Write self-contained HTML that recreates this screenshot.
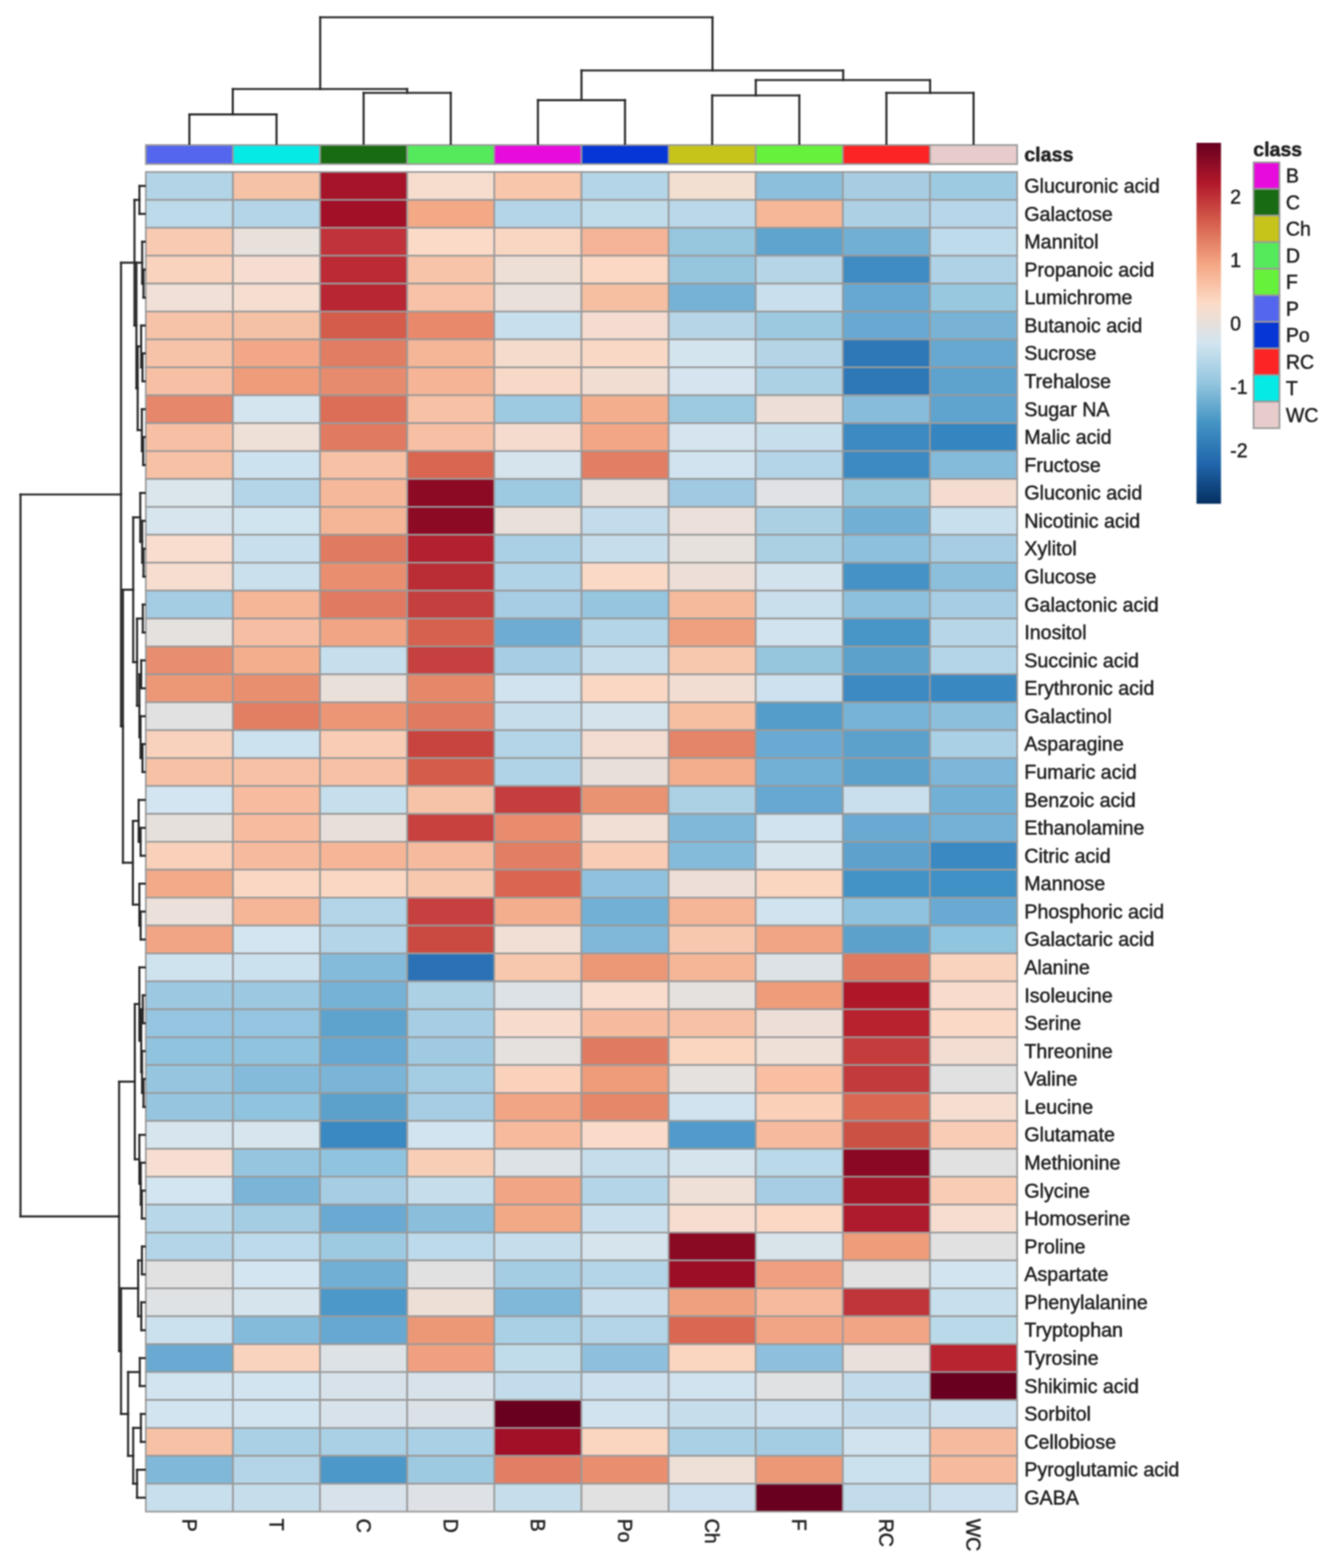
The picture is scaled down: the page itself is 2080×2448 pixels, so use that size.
<!DOCTYPE html><html><head><meta charset="utf-8"><style>
html,body{margin:0;padding:0;background:#fff;}
svg{display:block;filter:blur(0.9px);}
text{font-family:"Liberation Sans",Arial,sans-serif;fill:#202020;stroke:#202020;stroke-width:0.7px;}
</style></head><body>
<svg width="2080" height="2448" viewBox="0 0 2080 2448">
<rect width="2080" height="2448" fill="#fff"/>
<g stroke="#9a9a9a" stroke-width="2.6">
<rect x="227.7" y="268.5" width="136.1" height="43.57" fill="#B2D4E6"/>
<rect x="363.8" y="268.5" width="136.1" height="43.57" fill="#F6C2A6"/>
<rect x="499.8" y="268.5" width="136.1" height="43.57" fill="#A51428"/>
<rect x="635.9" y="268.5" width="136.1" height="43.57" fill="#F6DDCE"/>
<rect x="771.9" y="268.5" width="136.1" height="43.57" fill="#F8C6AA"/>
<rect x="908.0" y="268.5" width="136.1" height="43.57" fill="#B4D5E7"/>
<rect x="1044.1" y="268.5" width="136.1" height="43.57" fill="#F3DED2"/>
<rect x="1180.1" y="268.5" width="136.1" height="43.57" fill="#8BBFDB"/>
<rect x="1316.2" y="268.5" width="136.1" height="43.57" fill="#A8CDE2"/>
<rect x="1452.2" y="268.5" width="136.1" height="43.57" fill="#9ECAE1"/>
<rect x="227.7" y="312.1" width="136.1" height="43.57" fill="#BCDAEA"/>
<rect x="363.8" y="312.1" width="136.1" height="43.57" fill="#B4D5E8"/>
<rect x="499.8" y="312.1" width="136.1" height="43.57" fill="#A11027"/>
<rect x="635.9" y="312.1" width="136.1" height="43.57" fill="#F3A886"/>
<rect x="771.9" y="312.1" width="136.1" height="43.57" fill="#B4D5E8"/>
<rect x="908.0" y="312.1" width="136.1" height="43.57" fill="#C0DCEA"/>
<rect x="1044.1" y="312.1" width="136.1" height="43.57" fill="#BAD8EA"/>
<rect x="1180.1" y="312.1" width="136.1" height="43.57" fill="#F5B797"/>
<rect x="1316.2" y="312.1" width="136.1" height="43.57" fill="#AED0E5"/>
<rect x="1452.2" y="312.1" width="136.1" height="43.57" fill="#B7D6E9"/>
<rect x="227.7" y="355.6" width="136.1" height="43.57" fill="#F8CAB2"/>
<rect x="363.8" y="355.6" width="136.1" height="43.57" fill="#E8E0DA"/>
<rect x="499.8" y="355.6" width="136.1" height="43.57" fill="#C0333A"/>
<rect x="635.9" y="355.6" width="136.1" height="43.57" fill="#FBDBC8"/>
<rect x="771.9" y="355.6" width="136.1" height="43.57" fill="#F9D6C1"/>
<rect x="908.0" y="355.6" width="136.1" height="43.57" fill="#F5B497"/>
<rect x="1044.1" y="355.6" width="136.1" height="43.57" fill="#97C6DF"/>
<rect x="1180.1" y="355.6" width="136.1" height="43.57" fill="#5FA3CF"/>
<rect x="1316.2" y="355.6" width="136.1" height="43.57" fill="#72AFD4"/>
<rect x="1452.2" y="355.6" width="136.1" height="43.57" fill="#BEDBEB"/>
<rect x="227.7" y="399.2" width="136.1" height="43.57" fill="#F9D3BE"/>
<rect x="363.8" y="399.2" width="136.1" height="43.57" fill="#F5DED1"/>
<rect x="499.8" y="399.2" width="136.1" height="43.57" fill="#BB2A35"/>
<rect x="635.9" y="399.2" width="136.1" height="43.57" fill="#F7C4AA"/>
<rect x="771.9" y="399.2" width="136.1" height="43.57" fill="#EDDFD6"/>
<rect x="908.0" y="399.2" width="136.1" height="43.57" fill="#FAD8C3"/>
<rect x="1044.1" y="399.2" width="136.1" height="43.57" fill="#96C5DE"/>
<rect x="1180.1" y="399.2" width="136.1" height="43.57" fill="#B6D5E7"/>
<rect x="1316.2" y="399.2" width="136.1" height="43.57" fill="#3F8CC3"/>
<rect x="1452.2" y="399.2" width="136.1" height="43.57" fill="#AFD2E6"/>
<rect x="227.7" y="442.8" width="136.1" height="43.57" fill="#F1E0D7"/>
<rect x="363.8" y="442.8" width="136.1" height="43.57" fill="#F5DDD0"/>
<rect x="499.8" y="442.8" width="136.1" height="43.57" fill="#B92633"/>
<rect x="635.9" y="442.8" width="136.1" height="43.57" fill="#F7C2A7"/>
<rect x="771.9" y="442.8" width="136.1" height="43.57" fill="#EAE0DB"/>
<rect x="908.0" y="442.8" width="136.1" height="43.57" fill="#F6BFA2"/>
<rect x="1044.1" y="442.8" width="136.1" height="43.57" fill="#76B2D6"/>
<rect x="1180.1" y="442.8" width="136.1" height="43.57" fill="#CADFED"/>
<rect x="1316.2" y="442.8" width="136.1" height="43.57" fill="#67A8D2"/>
<rect x="1452.2" y="442.8" width="136.1" height="43.57" fill="#98C8E0"/>
<rect x="227.7" y="486.4" width="136.1" height="43.57" fill="#F7C3A8"/>
<rect x="363.8" y="486.4" width="136.1" height="43.57" fill="#F5C1A5"/>
<rect x="499.8" y="486.4" width="136.1" height="43.57" fill="#D35C4B"/>
<rect x="635.9" y="486.4" width="136.1" height="43.57" fill="#E8896B"/>
<rect x="771.9" y="486.4" width="136.1" height="43.57" fill="#C8DFED"/>
<rect x="908.0" y="486.4" width="136.1" height="43.57" fill="#F4DCD0"/>
<rect x="1044.1" y="486.4" width="136.1" height="43.57" fill="#B6D5E7"/>
<rect x="1180.1" y="486.4" width="136.1" height="43.57" fill="#9CC9E0"/>
<rect x="1316.2" y="486.4" width="136.1" height="43.57" fill="#69A8D0"/>
<rect x="1452.2" y="486.4" width="136.1" height="43.57" fill="#78B3D6"/>
<rect x="227.7" y="529.9" width="136.1" height="43.57" fill="#F7C3A8"/>
<rect x="363.8" y="529.9" width="136.1" height="43.57" fill="#F2A888"/>
<rect x="499.8" y="529.9" width="136.1" height="43.57" fill="#E07D62"/>
<rect x="635.9" y="529.9" width="136.1" height="43.57" fill="#F5B597"/>
<rect x="771.9" y="529.9" width="136.1" height="43.57" fill="#F5DBCC"/>
<rect x="908.0" y="529.9" width="136.1" height="43.57" fill="#F9D9C6"/>
<rect x="1044.1" y="529.9" width="136.1" height="43.57" fill="#D3E4EF"/>
<rect x="1180.1" y="529.9" width="136.1" height="43.57" fill="#B5D5E7"/>
<rect x="1316.2" y="529.9" width="136.1" height="43.57" fill="#2F78B8"/>
<rect x="1452.2" y="529.9" width="136.1" height="43.57" fill="#67A8D0"/>
<rect x="227.7" y="573.5" width="136.1" height="43.57" fill="#F7C0A4"/>
<rect x="363.8" y="573.5" width="136.1" height="43.57" fill="#EE9C7A"/>
<rect x="499.8" y="573.5" width="136.1" height="43.57" fill="#E68B6E"/>
<rect x="635.9" y="573.5" width="136.1" height="43.57" fill="#F5B496"/>
<rect x="771.9" y="573.5" width="136.1" height="43.57" fill="#F8D8C6"/>
<rect x="908.0" y="573.5" width="136.1" height="43.57" fill="#F2DDD2"/>
<rect x="1044.1" y="573.5" width="136.1" height="43.57" fill="#D5E4EE"/>
<rect x="1180.1" y="573.5" width="136.1" height="43.57" fill="#ACD1E5"/>
<rect x="1316.2" y="573.5" width="136.1" height="43.57" fill="#2F78B8"/>
<rect x="1452.2" y="573.5" width="136.1" height="43.57" fill="#5EA2CE"/>
<rect x="227.7" y="617.1" width="136.1" height="43.57" fill="#E6866A"/>
<rect x="363.8" y="617.1" width="136.1" height="43.57" fill="#D5E5EF"/>
<rect x="499.8" y="617.1" width="136.1" height="43.57" fill="#DC6D57"/>
<rect x="635.9" y="617.1" width="136.1" height="43.57" fill="#F7C1A6"/>
<rect x="771.9" y="617.1" width="136.1" height="43.57" fill="#9DC9E1"/>
<rect x="908.0" y="617.1" width="136.1" height="43.57" fill="#F3AE8D"/>
<rect x="1044.1" y="617.1" width="136.1" height="43.57" fill="#9DC9E1"/>
<rect x="1180.1" y="617.1" width="136.1" height="43.57" fill="#EDDFD7"/>
<rect x="1316.2" y="617.1" width="136.1" height="43.57" fill="#87BCDB"/>
<rect x="1452.2" y="617.1" width="136.1" height="43.57" fill="#5FA3CF"/>
<rect x="227.7" y="660.7" width="136.1" height="43.57" fill="#F7C0A4"/>
<rect x="363.8" y="660.7" width="136.1" height="43.57" fill="#EEDFD7"/>
<rect x="499.8" y="660.7" width="136.1" height="43.57" fill="#E07A60"/>
<rect x="635.9" y="660.7" width="136.1" height="43.57" fill="#F7BFA3"/>
<rect x="771.9" y="660.7" width="136.1" height="43.57" fill="#F5DBCE"/>
<rect x="908.0" y="660.7" width="136.1" height="43.57" fill="#F2A686"/>
<rect x="1044.1" y="660.7" width="136.1" height="43.57" fill="#D5E4EE"/>
<rect x="1180.1" y="660.7" width="136.1" height="43.57" fill="#C7DEEC"/>
<rect x="1316.2" y="660.7" width="136.1" height="43.57" fill="#3D8AC2"/>
<rect x="1452.2" y="660.7" width="136.1" height="43.57" fill="#3585C0"/>
<rect x="227.7" y="704.2" width="136.1" height="43.57" fill="#F7C1A5"/>
<rect x="363.8" y="704.2" width="136.1" height="43.57" fill="#CDE2EF"/>
<rect x="499.8" y="704.2" width="136.1" height="43.57" fill="#F7C1A5"/>
<rect x="635.9" y="704.2" width="136.1" height="43.57" fill="#D86651"/>
<rect x="771.9" y="704.2" width="136.1" height="43.57" fill="#D6E4EE"/>
<rect x="908.0" y="704.2" width="136.1" height="43.57" fill="#E27E64"/>
<rect x="1044.1" y="704.2" width="136.1" height="43.57" fill="#D0E3EF"/>
<rect x="1180.1" y="704.2" width="136.1" height="43.57" fill="#B4D5E7"/>
<rect x="1316.2" y="704.2" width="136.1" height="43.57" fill="#3D8AC2"/>
<rect x="1452.2" y="704.2" width="136.1" height="43.57" fill="#85BBDA"/>
<rect x="227.7" y="747.8" width="136.1" height="43.57" fill="#DAE5EC"/>
<rect x="363.8" y="747.8" width="136.1" height="43.57" fill="#B4D5E8"/>
<rect x="499.8" y="747.8" width="136.1" height="43.57" fill="#F5B89A"/>
<rect x="635.9" y="747.8" width="136.1" height="43.57" fill="#8C0A24"/>
<rect x="771.9" y="747.8" width="136.1" height="43.57" fill="#9DC9E1"/>
<rect x="908.0" y="747.8" width="136.1" height="43.57" fill="#EAE0DB"/>
<rect x="1044.1" y="747.8" width="136.1" height="43.57" fill="#A0CAE2"/>
<rect x="1180.1" y="747.8" width="136.1" height="43.57" fill="#E0E2E5"/>
<rect x="1316.2" y="747.8" width="136.1" height="43.57" fill="#96C5DE"/>
<rect x="1452.2" y="747.8" width="136.1" height="43.57" fill="#F5DCD0"/>
<rect x="227.7" y="791.4" width="136.1" height="43.57" fill="#D6E5EE"/>
<rect x="363.8" y="791.4" width="136.1" height="43.57" fill="#D0E4EF"/>
<rect x="499.8" y="791.4" width="136.1" height="43.57" fill="#F5B597"/>
<rect x="635.9" y="791.4" width="136.1" height="43.57" fill="#8C0A24"/>
<rect x="771.9" y="791.4" width="136.1" height="43.57" fill="#E9E0DB"/>
<rect x="908.0" y="791.4" width="136.1" height="43.57" fill="#C2DCEB"/>
<rect x="1044.1" y="791.4" width="136.1" height="43.57" fill="#EBE0DA"/>
<rect x="1180.1" y="791.4" width="136.1" height="43.57" fill="#ABD0E4"/>
<rect x="1316.2" y="791.4" width="136.1" height="43.57" fill="#72AFD4"/>
<rect x="1452.2" y="791.4" width="136.1" height="43.57" fill="#C8DFED"/>
<rect x="227.7" y="834.9" width="136.1" height="43.57" fill="#F9DDCE"/>
<rect x="363.8" y="834.9" width="136.1" height="43.57" fill="#C8DFED"/>
<rect x="499.8" y="834.9" width="136.1" height="43.57" fill="#E07A60"/>
<rect x="635.9" y="834.9" width="136.1" height="43.57" fill="#B3202F"/>
<rect x="771.9" y="834.9" width="136.1" height="43.57" fill="#AAD0E5"/>
<rect x="908.0" y="834.9" width="136.1" height="43.57" fill="#C6DEEC"/>
<rect x="1044.1" y="834.9" width="136.1" height="43.57" fill="#E7E1DE"/>
<rect x="1180.1" y="834.9" width="136.1" height="43.57" fill="#ABD0E4"/>
<rect x="1316.2" y="834.9" width="136.1" height="43.57" fill="#8CC0DC"/>
<rect x="1452.2" y="834.9" width="136.1" height="43.57" fill="#A6CDE3"/>
<rect x="227.7" y="878.5" width="136.1" height="43.57" fill="#F6DDCF"/>
<rect x="363.8" y="878.5" width="136.1" height="43.57" fill="#CAE0ED"/>
<rect x="499.8" y="878.5" width="136.1" height="43.57" fill="#E98F70"/>
<rect x="635.9" y="878.5" width="136.1" height="43.57" fill="#BB2D35"/>
<rect x="771.9" y="878.5" width="136.1" height="43.57" fill="#B1D3E7"/>
<rect x="908.0" y="878.5" width="136.1" height="43.57" fill="#FAD9C6"/>
<rect x="1044.1" y="878.5" width="136.1" height="43.57" fill="#EDDFD8"/>
<rect x="1180.1" y="878.5" width="136.1" height="43.57" fill="#D2E3EE"/>
<rect x="1316.2" y="878.5" width="136.1" height="43.57" fill="#4593C6"/>
<rect x="1452.2" y="878.5" width="136.1" height="43.57" fill="#8BBFDC"/>
<rect x="227.7" y="922.1" width="136.1" height="43.57" fill="#A4CCE3"/>
<rect x="363.8" y="922.1" width="136.1" height="43.57" fill="#F5B597"/>
<rect x="499.8" y="922.1" width="136.1" height="43.57" fill="#E07A60"/>
<rect x="635.9" y="922.1" width="136.1" height="43.57" fill="#C4403F"/>
<rect x="771.9" y="922.1" width="136.1" height="43.57" fill="#A6CDE3"/>
<rect x="908.0" y="922.1" width="136.1" height="43.57" fill="#95C5DF"/>
<rect x="1044.1" y="922.1" width="136.1" height="43.57" fill="#F5BA9C"/>
<rect x="1180.1" y="922.1" width="136.1" height="43.57" fill="#CADFEC"/>
<rect x="1316.2" y="922.1" width="136.1" height="43.57" fill="#8CC0DC"/>
<rect x="1452.2" y="922.1" width="136.1" height="43.57" fill="#A6CDE3"/>
<rect x="227.7" y="965.7" width="136.1" height="43.57" fill="#E5E1DF"/>
<rect x="363.8" y="965.7" width="136.1" height="43.57" fill="#F6BEA2"/>
<rect x="499.8" y="965.7" width="136.1" height="43.57" fill="#F2A584"/>
<rect x="635.9" y="965.7" width="136.1" height="43.57" fill="#D6614E"/>
<rect x="771.9" y="965.7" width="136.1" height="43.57" fill="#6EACD3"/>
<rect x="908.0" y="965.7" width="136.1" height="43.57" fill="#B4D5E8"/>
<rect x="1044.1" y="965.7" width="136.1" height="43.57" fill="#EFA07E"/>
<rect x="1180.1" y="965.7" width="136.1" height="43.57" fill="#D0E3EF"/>
<rect x="1316.2" y="965.7" width="136.1" height="43.57" fill="#4896C8"/>
<rect x="1452.2" y="965.7" width="136.1" height="43.57" fill="#B7D7E9"/>
<rect x="227.7" y="1009.2" width="136.1" height="43.57" fill="#E88D6F"/>
<rect x="363.8" y="1009.2" width="136.1" height="43.57" fill="#F3AE8E"/>
<rect x="499.8" y="1009.2" width="136.1" height="43.57" fill="#C6DFED"/>
<rect x="635.9" y="1009.2" width="136.1" height="43.57" fill="#C6403F"/>
<rect x="771.9" y="1009.2" width="136.1" height="43.57" fill="#A6CDE3"/>
<rect x="908.0" y="1009.2" width="136.1" height="43.57" fill="#C6DEEC"/>
<rect x="1044.1" y="1009.2" width="136.1" height="43.57" fill="#F8C8AE"/>
<rect x="1180.1" y="1009.2" width="136.1" height="43.57" fill="#96C5DE"/>
<rect x="1316.2" y="1009.2" width="136.1" height="43.57" fill="#5CA0CC"/>
<rect x="1452.2" y="1009.2" width="136.1" height="43.57" fill="#B4D5E7"/>
<rect x="227.7" y="1052.8" width="136.1" height="43.57" fill="#EC9877"/>
<rect x="363.8" y="1052.8" width="136.1" height="43.57" fill="#E88F70"/>
<rect x="499.8" y="1052.8" width="136.1" height="43.57" fill="#E9E0DA"/>
<rect x="635.9" y="1052.8" width="136.1" height="43.57" fill="#E5886A"/>
<rect x="771.9" y="1052.8" width="136.1" height="43.57" fill="#D0E3EF"/>
<rect x="908.0" y="1052.8" width="136.1" height="43.57" fill="#FAD7C3"/>
<rect x="1044.1" y="1052.8" width="136.1" height="43.57" fill="#F2DDD2"/>
<rect x="1180.1" y="1052.8" width="136.1" height="43.57" fill="#CDE1EE"/>
<rect x="1316.2" y="1052.8" width="136.1" height="43.57" fill="#3D8AC2"/>
<rect x="1452.2" y="1052.8" width="136.1" height="43.57" fill="#3A88C2"/>
<rect x="227.7" y="1096.4" width="136.1" height="43.57" fill="#E2E1E1"/>
<rect x="363.8" y="1096.4" width="136.1" height="43.57" fill="#E27F63"/>
<rect x="499.8" y="1096.4" width="136.1" height="43.57" fill="#EC9676"/>
<rect x="635.9" y="1096.4" width="136.1" height="43.57" fill="#E07A60"/>
<rect x="771.9" y="1096.4" width="136.1" height="43.57" fill="#C6DEEC"/>
<rect x="908.0" y="1096.4" width="136.1" height="43.57" fill="#D5E3EC"/>
<rect x="1044.1" y="1096.4" width="136.1" height="43.57" fill="#F6BFA2"/>
<rect x="1180.1" y="1096.4" width="136.1" height="43.57" fill="#549DCB"/>
<rect x="1316.2" y="1096.4" width="136.1" height="43.57" fill="#77B3D6"/>
<rect x="1452.2" y="1096.4" width="136.1" height="43.57" fill="#8BBFDC"/>
<rect x="227.7" y="1140.0" width="136.1" height="43.57" fill="#F9D2BD"/>
<rect x="363.8" y="1140.0" width="136.1" height="43.57" fill="#CCE2EF"/>
<rect x="499.8" y="1140.0" width="136.1" height="43.57" fill="#F9CDB5"/>
<rect x="635.9" y="1140.0" width="136.1" height="43.57" fill="#C8443F"/>
<rect x="771.9" y="1140.0" width="136.1" height="43.57" fill="#B4D5E8"/>
<rect x="908.0" y="1140.0" width="136.1" height="43.57" fill="#F3DDD2"/>
<rect x="1044.1" y="1140.0" width="136.1" height="43.57" fill="#E48468"/>
<rect x="1180.1" y="1140.0" width="136.1" height="43.57" fill="#6AAAD2"/>
<rect x="1316.2" y="1140.0" width="136.1" height="43.57" fill="#5CA0CC"/>
<rect x="1452.2" y="1140.0" width="136.1" height="43.57" fill="#AAD0E5"/>
<rect x="227.7" y="1183.5" width="136.1" height="43.57" fill="#F7C1A5"/>
<rect x="363.8" y="1183.5" width="136.1" height="43.57" fill="#F7C1A5"/>
<rect x="499.8" y="1183.5" width="136.1" height="43.57" fill="#F7C1A5"/>
<rect x="635.9" y="1183.5" width="136.1" height="43.57" fill="#D35C4B"/>
<rect x="771.9" y="1183.5" width="136.1" height="43.57" fill="#B1D3E7"/>
<rect x="908.0" y="1183.5" width="136.1" height="43.57" fill="#E8DFDA"/>
<rect x="1044.1" y="1183.5" width="136.1" height="43.57" fill="#F3AE8E"/>
<rect x="1180.1" y="1183.5" width="136.1" height="43.57" fill="#73B0D5"/>
<rect x="1316.2" y="1183.5" width="136.1" height="43.57" fill="#5CA0CC"/>
<rect x="1452.2" y="1183.5" width="136.1" height="43.57" fill="#7CB6D8"/>
<rect x="227.7" y="1227.1" width="136.1" height="43.57" fill="#D3E5F0"/>
<rect x="363.8" y="1227.1" width="136.1" height="43.57" fill="#F7BCA0"/>
<rect x="499.8" y="1227.1" width="136.1" height="43.57" fill="#C6DFED"/>
<rect x="635.9" y="1227.1" width="136.1" height="43.57" fill="#F7C3A8"/>
<rect x="771.9" y="1227.1" width="136.1" height="43.57" fill="#C53D3D"/>
<rect x="908.0" y="1227.1" width="136.1" height="43.57" fill="#E99373"/>
<rect x="1044.1" y="1227.1" width="136.1" height="43.57" fill="#ACD1E5"/>
<rect x="1180.1" y="1227.1" width="136.1" height="43.57" fill="#66A8D2"/>
<rect x="1316.2" y="1227.1" width="136.1" height="43.57" fill="#CADFED"/>
<rect x="1452.2" y="1227.1" width="136.1" height="43.57" fill="#73B0D5"/>
<rect x="227.7" y="1270.7" width="136.1" height="43.57" fill="#E6E0DD"/>
<rect x="363.8" y="1270.7" width="136.1" height="43.57" fill="#F7BCA0"/>
<rect x="499.8" y="1270.7" width="136.1" height="43.57" fill="#E9DFDA"/>
<rect x="635.9" y="1270.7" width="136.1" height="43.57" fill="#C8413F"/>
<rect x="771.9" y="1270.7" width="136.1" height="43.57" fill="#E98C6D"/>
<rect x="908.0" y="1270.7" width="136.1" height="43.57" fill="#F1DED4"/>
<rect x="1044.1" y="1270.7" width="136.1" height="43.57" fill="#80B8D9"/>
<rect x="1180.1" y="1270.7" width="136.1" height="43.57" fill="#D0E3EF"/>
<rect x="1316.2" y="1270.7" width="136.1" height="43.57" fill="#6AAAD2"/>
<rect x="1452.2" y="1270.7" width="136.1" height="43.57" fill="#75B1D6"/>
<rect x="227.7" y="1314.2" width="136.1" height="43.57" fill="#F9D1BA"/>
<rect x="363.8" y="1314.2" width="136.1" height="43.57" fill="#F6BB9E"/>
<rect x="499.8" y="1314.2" width="136.1" height="43.57" fill="#F5B596"/>
<rect x="635.9" y="1314.2" width="136.1" height="43.57" fill="#F6BB9E"/>
<rect x="771.9" y="1314.2" width="136.1" height="43.57" fill="#E27E64"/>
<rect x="908.0" y="1314.2" width="136.1" height="43.57" fill="#F9CDB5"/>
<rect x="1044.1" y="1314.2" width="136.1" height="43.57" fill="#85BBDA"/>
<rect x="1180.1" y="1314.2" width="136.1" height="43.57" fill="#D6E4EE"/>
<rect x="1316.2" y="1314.2" width="136.1" height="43.57" fill="#5DA1CC"/>
<rect x="1452.2" y="1314.2" width="136.1" height="43.57" fill="#3B89C3"/>
<rect x="227.7" y="1357.8" width="136.1" height="43.57" fill="#F2AA89"/>
<rect x="363.8" y="1357.8" width="136.1" height="43.57" fill="#FAD7C3"/>
<rect x="499.8" y="1357.8" width="136.1" height="43.57" fill="#FAD7C3"/>
<rect x="635.9" y="1357.8" width="136.1" height="43.57" fill="#F8C8AE"/>
<rect x="771.9" y="1357.8" width="136.1" height="43.57" fill="#DA6651"/>
<rect x="908.0" y="1357.8" width="136.1" height="43.57" fill="#90C2DE"/>
<rect x="1044.1" y="1357.8" width="136.1" height="43.57" fill="#EDDFD7"/>
<rect x="1180.1" y="1357.8" width="136.1" height="43.57" fill="#FAD5C0"/>
<rect x="1316.2" y="1357.8" width="136.1" height="43.57" fill="#4493C6"/>
<rect x="1452.2" y="1357.8" width="136.1" height="43.57" fill="#4091C6"/>
<rect x="227.7" y="1401.4" width="136.1" height="43.57" fill="#EBE0DA"/>
<rect x="363.8" y="1401.4" width="136.1" height="43.57" fill="#F5B597"/>
<rect x="499.8" y="1401.4" width="136.1" height="43.57" fill="#B4D5E8"/>
<rect x="635.9" y="1401.4" width="136.1" height="43.57" fill="#C6403F"/>
<rect x="771.9" y="1401.4" width="136.1" height="43.57" fill="#F3AE8E"/>
<rect x="908.0" y="1401.4" width="136.1" height="43.57" fill="#73B0D5"/>
<rect x="1044.1" y="1401.4" width="136.1" height="43.57" fill="#F5B597"/>
<rect x="1180.1" y="1401.4" width="136.1" height="43.57" fill="#D0E3EF"/>
<rect x="1316.2" y="1401.4" width="136.1" height="43.57" fill="#8EC2DD"/>
<rect x="1452.2" y="1401.4" width="136.1" height="43.57" fill="#6AAAD2"/>
<rect x="227.7" y="1445.0" width="136.1" height="43.57" fill="#F2A584"/>
<rect x="363.8" y="1445.0" width="136.1" height="43.57" fill="#D2E5F0"/>
<rect x="499.8" y="1445.0" width="136.1" height="43.57" fill="#B4D5E8"/>
<rect x="635.9" y="1445.0" width="136.1" height="43.57" fill="#CA4A42"/>
<rect x="771.9" y="1445.0" width="136.1" height="43.57" fill="#F1DFD5"/>
<rect x="908.0" y="1445.0" width="136.1" height="43.57" fill="#80B8D9"/>
<rect x="1044.1" y="1445.0" width="136.1" height="43.57" fill="#F8C8AE"/>
<rect x="1180.1" y="1445.0" width="136.1" height="43.57" fill="#F2A584"/>
<rect x="1316.2" y="1445.0" width="136.1" height="43.57" fill="#5CA0CC"/>
<rect x="1452.2" y="1445.0" width="136.1" height="43.57" fill="#90C5DF"/>
<rect x="227.7" y="1488.5" width="136.1" height="43.57" fill="#CFE3EF"/>
<rect x="363.8" y="1488.5" width="136.1" height="43.57" fill="#CCE1EE"/>
<rect x="499.8" y="1488.5" width="136.1" height="43.57" fill="#85BBDA"/>
<rect x="635.9" y="1488.5" width="136.1" height="43.57" fill="#2A72B5"/>
<rect x="771.9" y="1488.5" width="136.1" height="43.57" fill="#F8C8AE"/>
<rect x="908.0" y="1488.5" width="136.1" height="43.57" fill="#EC9877"/>
<rect x="1044.1" y="1488.5" width="136.1" height="43.57" fill="#F5B597"/>
<rect x="1180.1" y="1488.5" width="136.1" height="43.57" fill="#DCE2E6"/>
<rect x="1316.2" y="1488.5" width="136.1" height="43.57" fill="#E07A60"/>
<rect x="1452.2" y="1488.5" width="136.1" height="43.57" fill="#FAD3BE"/>
<rect x="227.7" y="1532.1" width="136.1" height="43.57" fill="#9CC8E1"/>
<rect x="363.8" y="1532.1" width="136.1" height="43.57" fill="#9CC8E1"/>
<rect x="499.8" y="1532.1" width="136.1" height="43.57" fill="#76B2D6"/>
<rect x="635.9" y="1532.1" width="136.1" height="43.57" fill="#ACD1E5"/>
<rect x="771.9" y="1532.1" width="136.1" height="43.57" fill="#DCE2E6"/>
<rect x="908.0" y="1532.1" width="136.1" height="43.57" fill="#FADCCC"/>
<rect x="1044.1" y="1532.1" width="136.1" height="43.57" fill="#E5E1DF"/>
<rect x="1180.1" y="1532.1" width="136.1" height="43.57" fill="#EE9C7A"/>
<rect x="1316.2" y="1532.1" width="136.1" height="43.57" fill="#AF1729"/>
<rect x="1452.2" y="1532.1" width="136.1" height="43.57" fill="#F8DBCC"/>
<rect x="227.7" y="1575.7" width="136.1" height="43.57" fill="#95C5E0"/>
<rect x="363.8" y="1575.7" width="136.1" height="43.57" fill="#95C5E0"/>
<rect x="499.8" y="1575.7" width="136.1" height="43.57" fill="#5EA3CE"/>
<rect x="635.9" y="1575.7" width="136.1" height="43.57" fill="#A6CDE3"/>
<rect x="771.9" y="1575.7" width="136.1" height="43.57" fill="#F7DCCE"/>
<rect x="908.0" y="1575.7" width="136.1" height="43.57" fill="#F6BB9E"/>
<rect x="1044.1" y="1575.7" width="136.1" height="43.57" fill="#F7C1A5"/>
<rect x="1180.1" y="1575.7" width="136.1" height="43.57" fill="#EDDFD8"/>
<rect x="1316.2" y="1575.7" width="136.1" height="43.57" fill="#B8222F"/>
<rect x="1452.2" y="1575.7" width="136.1" height="43.57" fill="#FAD9C6"/>
<rect x="227.7" y="1619.3" width="136.1" height="43.57" fill="#90C3DE"/>
<rect x="363.8" y="1619.3" width="136.1" height="43.57" fill="#90C3DE"/>
<rect x="499.8" y="1619.3" width="136.1" height="43.57" fill="#66A8D2"/>
<rect x="635.9" y="1619.3" width="136.1" height="43.57" fill="#A0CAE2"/>
<rect x="771.9" y="1619.3" width="136.1" height="43.57" fill="#E5E1DF"/>
<rect x="908.0" y="1619.3" width="136.1" height="43.57" fill="#E07A60"/>
<rect x="1044.1" y="1619.3" width="136.1" height="43.57" fill="#FAD5C0"/>
<rect x="1180.1" y="1619.3" width="136.1" height="43.57" fill="#EEDFD7"/>
<rect x="1316.2" y="1619.3" width="136.1" height="43.57" fill="#C43C3C"/>
<rect x="1452.2" y="1619.3" width="136.1" height="43.57" fill="#F3DDD2"/>
<rect x="227.7" y="1662.8" width="136.1" height="43.57" fill="#96C6DF"/>
<rect x="363.8" y="1662.8" width="136.1" height="43.57" fill="#85BBDA"/>
<rect x="499.8" y="1662.8" width="136.1" height="43.57" fill="#7AB4D7"/>
<rect x="635.9" y="1662.8" width="136.1" height="43.57" fill="#A4CCE3"/>
<rect x="771.9" y="1662.8" width="136.1" height="43.57" fill="#FAD2BC"/>
<rect x="908.0" y="1662.8" width="136.1" height="43.57" fill="#EE9C7A"/>
<rect x="1044.1" y="1662.8" width="136.1" height="43.57" fill="#E5E1DF"/>
<rect x="1180.1" y="1662.8" width="136.1" height="43.57" fill="#F8BFA3"/>
<rect x="1316.2" y="1662.8" width="136.1" height="43.57" fill="#C23A3B"/>
<rect x="1452.2" y="1662.8" width="136.1" height="43.57" fill="#E2E1E2"/>
<rect x="227.7" y="1706.4" width="136.1" height="43.57" fill="#96C6DF"/>
<rect x="363.8" y="1706.4" width="136.1" height="43.57" fill="#90C3DE"/>
<rect x="499.8" y="1706.4" width="136.1" height="43.57" fill="#5CA0CC"/>
<rect x="635.9" y="1706.4" width="136.1" height="43.57" fill="#A6CDE3"/>
<rect x="771.9" y="1706.4" width="136.1" height="43.57" fill="#F2A584"/>
<rect x="908.0" y="1706.4" width="136.1" height="43.57" fill="#E5886A"/>
<rect x="1044.1" y="1706.4" width="136.1" height="43.57" fill="#D0E3EF"/>
<rect x="1180.1" y="1706.4" width="136.1" height="43.57" fill="#FAD0B8"/>
<rect x="1316.2" y="1706.4" width="136.1" height="43.57" fill="#D96752"/>
<rect x="1452.2" y="1706.4" width="136.1" height="43.57" fill="#F5DDD0"/>
<rect x="227.7" y="1750.0" width="136.1" height="43.57" fill="#D6E5EE"/>
<rect x="363.8" y="1750.0" width="136.1" height="43.57" fill="#D6E5EE"/>
<rect x="499.8" y="1750.0" width="136.1" height="43.57" fill="#3B89C3"/>
<rect x="635.9" y="1750.0" width="136.1" height="43.57" fill="#D2E4EF"/>
<rect x="771.9" y="1750.0" width="136.1" height="43.57" fill="#F7BA9C"/>
<rect x="908.0" y="1750.0" width="136.1" height="43.57" fill="#FADBC9"/>
<rect x="1044.1" y="1750.0" width="136.1" height="43.57" fill="#509BCB"/>
<rect x="1180.1" y="1750.0" width="136.1" height="43.57" fill="#F6BB9E"/>
<rect x="1316.2" y="1750.0" width="136.1" height="43.57" fill="#CC5145"/>
<rect x="1452.2" y="1750.0" width="136.1" height="43.57" fill="#F9CDB5"/>
<rect x="227.7" y="1793.6" width="136.1" height="43.57" fill="#F6DED2"/>
<rect x="363.8" y="1793.6" width="136.1" height="43.57" fill="#96C6DF"/>
<rect x="499.8" y="1793.6" width="136.1" height="43.57" fill="#90C3DE"/>
<rect x="635.9" y="1793.6" width="136.1" height="43.57" fill="#F9CEB6"/>
<rect x="771.9" y="1793.6" width="136.1" height="43.57" fill="#DCE2E6"/>
<rect x="908.0" y="1793.6" width="136.1" height="43.57" fill="#C6DEEC"/>
<rect x="1044.1" y="1793.6" width="136.1" height="43.57" fill="#D6E4EE"/>
<rect x="1180.1" y="1793.6" width="136.1" height="43.57" fill="#BADAEA"/>
<rect x="1316.2" y="1793.6" width="136.1" height="43.57" fill="#8A0824"/>
<rect x="1452.2" y="1793.6" width="136.1" height="43.57" fill="#E2E1E2"/>
<rect x="227.7" y="1837.1" width="136.1" height="43.57" fill="#D2E5F0"/>
<rect x="363.8" y="1837.1" width="136.1" height="43.57" fill="#7AB4D7"/>
<rect x="499.8" y="1837.1" width="136.1" height="43.57" fill="#A6CDE3"/>
<rect x="635.9" y="1837.1" width="136.1" height="43.57" fill="#C6DEEC"/>
<rect x="771.9" y="1837.1" width="136.1" height="43.57" fill="#F2A584"/>
<rect x="908.0" y="1837.1" width="136.1" height="43.57" fill="#B4D5E8"/>
<rect x="1044.1" y="1837.1" width="136.1" height="43.57" fill="#EEDFD7"/>
<rect x="1180.1" y="1837.1" width="136.1" height="43.57" fill="#A6CDE3"/>
<rect x="1316.2" y="1837.1" width="136.1" height="43.57" fill="#A51528"/>
<rect x="1452.2" y="1837.1" width="136.1" height="43.57" fill="#F9CDB5"/>
<rect x="227.7" y="1880.7" width="136.1" height="43.57" fill="#B8D8EA"/>
<rect x="363.8" y="1880.7" width="136.1" height="43.57" fill="#A4CCE3"/>
<rect x="499.8" y="1880.7" width="136.1" height="43.57" fill="#6AAAD2"/>
<rect x="635.9" y="1880.7" width="136.1" height="43.57" fill="#8ABEDB"/>
<rect x="771.9" y="1880.7" width="136.1" height="43.57" fill="#F2A986"/>
<rect x="908.0" y="1880.7" width="136.1" height="43.57" fill="#CADFED"/>
<rect x="1044.1" y="1880.7" width="136.1" height="43.57" fill="#F6DDCF"/>
<rect x="1180.1" y="1880.7" width="136.1" height="43.57" fill="#FAD8C4"/>
<rect x="1316.2" y="1880.7" width="136.1" height="43.57" fill="#AE1B2C"/>
<rect x="1452.2" y="1880.7" width="136.1" height="43.57" fill="#F6DDCF"/>
<rect x="227.7" y="1924.3" width="136.1" height="43.57" fill="#B4D5E8"/>
<rect x="363.8" y="1924.3" width="136.1" height="43.57" fill="#BCDAEB"/>
<rect x="499.8" y="1924.3" width="136.1" height="43.57" fill="#9ECAE1"/>
<rect x="635.9" y="1924.3" width="136.1" height="43.57" fill="#BCDAEB"/>
<rect x="771.9" y="1924.3" width="136.1" height="43.57" fill="#C6DEEC"/>
<rect x="908.0" y="1924.3" width="136.1" height="43.57" fill="#D6E4EE"/>
<rect x="1044.1" y="1924.3" width="136.1" height="43.57" fill="#8A0A24"/>
<rect x="1180.1" y="1924.3" width="136.1" height="43.57" fill="#D9E3EA"/>
<rect x="1316.2" y="1924.3" width="136.1" height="43.57" fill="#EE9C7A"/>
<rect x="1452.2" y="1924.3" width="136.1" height="43.57" fill="#E2E1E2"/>
<rect x="227.7" y="1967.8" width="136.1" height="43.57" fill="#E2E1E1"/>
<rect x="363.8" y="1967.8" width="136.1" height="43.57" fill="#D2E5F0"/>
<rect x="499.8" y="1967.8" width="136.1" height="43.57" fill="#72AFD4"/>
<rect x="635.9" y="1967.8" width="136.1" height="43.57" fill="#E2E1E1"/>
<rect x="771.9" y="1967.8" width="136.1" height="43.57" fill="#A4CCE3"/>
<rect x="908.0" y="1967.8" width="136.1" height="43.57" fill="#B4D5E8"/>
<rect x="1044.1" y="1967.8" width="136.1" height="43.57" fill="#9C0E26"/>
<rect x="1180.1" y="1967.8" width="136.1" height="43.57" fill="#F0A080"/>
<rect x="1316.2" y="1967.8" width="136.1" height="43.57" fill="#E2E1E2"/>
<rect x="1452.2" y="1967.8" width="136.1" height="43.57" fill="#D2E4EF"/>
<rect x="227.7" y="2011.4" width="136.1" height="43.57" fill="#DFE2E4"/>
<rect x="363.8" y="2011.4" width="136.1" height="43.57" fill="#D6E4EE"/>
<rect x="499.8" y="2011.4" width="136.1" height="43.57" fill="#4C98C9"/>
<rect x="635.9" y="2011.4" width="136.1" height="43.57" fill="#EEDFD6"/>
<rect x="771.9" y="2011.4" width="136.1" height="43.57" fill="#80B8D9"/>
<rect x="908.0" y="2011.4" width="136.1" height="43.57" fill="#CADFED"/>
<rect x="1044.1" y="2011.4" width="136.1" height="43.57" fill="#EFA07E"/>
<rect x="1180.1" y="2011.4" width="136.1" height="43.57" fill="#F6BB9E"/>
<rect x="1316.2" y="2011.4" width="136.1" height="43.57" fill="#C03539"/>
<rect x="1452.2" y="2011.4" width="136.1" height="43.57" fill="#C8DFED"/>
<rect x="227.7" y="2055.0" width="136.1" height="43.57" fill="#CCE1EE"/>
<rect x="363.8" y="2055.0" width="136.1" height="43.57" fill="#85BBDA"/>
<rect x="499.8" y="2055.0" width="136.1" height="43.57" fill="#66A8D2"/>
<rect x="635.9" y="2055.0" width="136.1" height="43.57" fill="#EC9877"/>
<rect x="771.9" y="2055.0" width="136.1" height="43.57" fill="#AAD0E5"/>
<rect x="908.0" y="2055.0" width="136.1" height="43.57" fill="#B4D5E8"/>
<rect x="1044.1" y="2055.0" width="136.1" height="43.57" fill="#D96752"/>
<rect x="1180.1" y="2055.0" width="136.1" height="43.57" fill="#F2A584"/>
<rect x="1316.2" y="2055.0" width="136.1" height="43.57" fill="#F2A584"/>
<rect x="1452.2" y="2055.0" width="136.1" height="43.57" fill="#BADAEA"/>
<rect x="227.7" y="2098.6" width="136.1" height="43.57" fill="#6AAAD2"/>
<rect x="363.8" y="2098.6" width="136.1" height="43.57" fill="#FAD3BE"/>
<rect x="499.8" y="2098.6" width="136.1" height="43.57" fill="#DCE2E6"/>
<rect x="635.9" y="2098.6" width="136.1" height="43.57" fill="#F0A080"/>
<rect x="771.9" y="2098.6" width="136.1" height="43.57" fill="#C0DCEB"/>
<rect x="908.0" y="2098.6" width="136.1" height="43.57" fill="#8EC0DD"/>
<rect x="1044.1" y="2098.6" width="136.1" height="43.57" fill="#FAD5C0"/>
<rect x="1180.1" y="2098.6" width="136.1" height="43.57" fill="#8EC0DD"/>
<rect x="1316.2" y="2098.6" width="136.1" height="43.57" fill="#E9DFDB"/>
<rect x="1452.2" y="2098.6" width="136.1" height="43.57" fill="#B82430"/>
<rect x="227.7" y="2142.1" width="136.1" height="43.57" fill="#D2E4EF"/>
<rect x="363.8" y="2142.1" width="136.1" height="43.57" fill="#D2E4EF"/>
<rect x="499.8" y="2142.1" width="136.1" height="43.57" fill="#D8E2EA"/>
<rect x="635.9" y="2142.1" width="136.1" height="43.57" fill="#D8E2EA"/>
<rect x="771.9" y="2142.1" width="136.1" height="43.57" fill="#C2DCEB"/>
<rect x="908.0" y="2142.1" width="136.1" height="43.57" fill="#CCE0EE"/>
<rect x="1044.1" y="2142.1" width="136.1" height="43.57" fill="#D0E3EF"/>
<rect x="1180.1" y="2142.1" width="136.1" height="43.57" fill="#E0E1E3"/>
<rect x="1316.2" y="2142.1" width="136.1" height="43.57" fill="#C2DCEB"/>
<rect x="1452.2" y="2142.1" width="136.1" height="43.57" fill="#69001F"/>
<rect x="227.7" y="2185.7" width="136.1" height="43.57" fill="#D2E4EF"/>
<rect x="363.8" y="2185.7" width="136.1" height="43.57" fill="#D2E4EF"/>
<rect x="499.8" y="2185.7" width="136.1" height="43.57" fill="#D8E2EA"/>
<rect x="635.9" y="2185.7" width="136.1" height="43.57" fill="#DAE2E8"/>
<rect x="771.9" y="2185.7" width="136.1" height="43.57" fill="#69001F"/>
<rect x="908.0" y="2185.7" width="136.1" height="43.57" fill="#D0E3EF"/>
<rect x="1044.1" y="2185.7" width="136.1" height="43.57" fill="#C6DEEC"/>
<rect x="1180.1" y="2185.7" width="136.1" height="43.57" fill="#CCE0EE"/>
<rect x="1316.2" y="2185.7" width="136.1" height="43.57" fill="#C2DCEB"/>
<rect x="1452.2" y="2185.7" width="136.1" height="43.57" fill="#CCE0EE"/>
<rect x="227.7" y="2229.3" width="136.1" height="43.57" fill="#F7C1A5"/>
<rect x="363.8" y="2229.3" width="136.1" height="43.57" fill="#AAD0E5"/>
<rect x="499.8" y="2229.3" width="136.1" height="43.57" fill="#AAD0E5"/>
<rect x="635.9" y="2229.3" width="136.1" height="43.57" fill="#AAD0E5"/>
<rect x="771.9" y="2229.3" width="136.1" height="43.57" fill="#A11027"/>
<rect x="908.0" y="2229.3" width="136.1" height="43.57" fill="#FAD5C0"/>
<rect x="1044.1" y="2229.3" width="136.1" height="43.57" fill="#AAD0E5"/>
<rect x="1180.1" y="2229.3" width="136.1" height="43.57" fill="#A4CCE3"/>
<rect x="1316.2" y="2229.3" width="136.1" height="43.57" fill="#D0E3EF"/>
<rect x="1452.2" y="2229.3" width="136.1" height="43.57" fill="#F6BB9E"/>
<rect x="227.7" y="2272.9" width="136.1" height="43.57" fill="#80B8D9"/>
<rect x="363.8" y="2272.9" width="136.1" height="43.57" fill="#B4D5E8"/>
<rect x="499.8" y="2272.9" width="136.1" height="43.57" fill="#4C98C9"/>
<rect x="635.9" y="2272.9" width="136.1" height="43.57" fill="#9ECAE1"/>
<rect x="771.9" y="2272.9" width="136.1" height="43.57" fill="#E27E64"/>
<rect x="908.0" y="2272.9" width="136.1" height="43.57" fill="#E98F70"/>
<rect x="1044.1" y="2272.9" width="136.1" height="43.57" fill="#EEDFD7"/>
<rect x="1180.1" y="2272.9" width="136.1" height="43.57" fill="#EC9877"/>
<rect x="1316.2" y="2272.9" width="136.1" height="43.57" fill="#CCE1EE"/>
<rect x="1452.2" y="2272.9" width="136.1" height="43.57" fill="#F6BB9E"/>
<rect x="227.7" y="2316.4" width="136.1" height="43.57" fill="#C8DFED"/>
<rect x="363.8" y="2316.4" width="136.1" height="43.57" fill="#C6DEEC"/>
<rect x="499.8" y="2316.4" width="136.1" height="43.57" fill="#D8E2EA"/>
<rect x="635.9" y="2316.4" width="136.1" height="43.57" fill="#DEE2E6"/>
<rect x="771.9" y="2316.4" width="136.1" height="43.57" fill="#C6DEEC"/>
<rect x="908.0" y="2316.4" width="136.1" height="43.57" fill="#E2E1E1"/>
<rect x="1044.1" y="2316.4" width="136.1" height="43.57" fill="#CCE0EE"/>
<rect x="1180.1" y="2316.4" width="136.1" height="43.57" fill="#69001F"/>
<rect x="1316.2" y="2316.4" width="136.1" height="43.57" fill="#C2DCEB"/>
<rect x="1452.2" y="2316.4" width="136.1" height="43.57" fill="#CCE0EE"/>
</g>
<g stroke="#9a9a9a" stroke-width="2.6">
<rect x="227.7" y="226.4" width="136.1" height="29.8" fill="#5566EE"/>
<rect x="363.8" y="226.4" width="136.1" height="29.8" fill="#06EAE6"/>
<rect x="499.8" y="226.4" width="136.1" height="29.8" fill="#196B13"/>
<rect x="635.9" y="226.4" width="136.1" height="29.8" fill="#55EA5B"/>
<rect x="771.9" y="226.4" width="136.1" height="29.8" fill="#E80BDD"/>
<rect x="908.0" y="226.4" width="136.1" height="29.8" fill="#0636D6"/>
<rect x="1044.1" y="226.4" width="136.1" height="29.8" fill="#C6C41A"/>
<rect x="1180.1" y="226.4" width="136.1" height="29.8" fill="#66F23A"/>
<rect x="1316.2" y="226.4" width="136.1" height="29.8" fill="#FC2424"/>
<rect x="1452.2" y="226.4" width="136.1" height="29.8" fill="#E8CCCC"/>
</g>
<g font-size="30.7">
<text x="1599.5" y="300.9">Glucuronic acid</text>
<text x="1599.5" y="344.5">Galactose</text>
<text x="1599.5" y="388.0">Mannitol</text>
<text x="1599.5" y="431.6">Propanoic acid</text>
<text x="1599.5" y="475.2">Lumichrome</text>
<text x="1599.5" y="518.8">Butanoic acid</text>
<text x="1599.5" y="562.3">Sucrose</text>
<text x="1599.5" y="605.9">Trehalose</text>
<text x="1599.5" y="649.5">Sugar NA</text>
<text x="1599.5" y="693.0">Malic acid</text>
<text x="1599.5" y="736.6">Fructose</text>
<text x="1599.5" y="780.2">Gluconic acid</text>
<text x="1599.5" y="823.8">Nicotinic acid</text>
<text x="1599.5" y="867.3">Xylitol</text>
<text x="1599.5" y="910.9">Glucose</text>
<text x="1599.5" y="954.5">Galactonic acid</text>
<text x="1599.5" y="998.1">Inositol</text>
<text x="1599.5" y="1041.6">Succinic acid</text>
<text x="1599.5" y="1085.2">Erythronic acid</text>
<text x="1599.5" y="1128.8">Galactinol</text>
<text x="1599.5" y="1172.3">Asparagine</text>
<text x="1599.5" y="1215.9">Fumaric acid</text>
<text x="1599.5" y="1259.5">Benzoic acid</text>
<text x="1599.5" y="1303.1">Ethanolamine</text>
<text x="1599.5" y="1346.6">Citric acid</text>
<text x="1599.5" y="1390.2">Mannose</text>
<text x="1599.5" y="1433.8">Phosphoric acid</text>
<text x="1599.5" y="1477.4">Galactaric acid</text>
<text x="1599.5" y="1520.9">Alanine</text>
<text x="1599.5" y="1564.5">Isoleucine</text>
<text x="1599.5" y="1608.1">Serine</text>
<text x="1599.5" y="1651.6">Threonine</text>
<text x="1599.5" y="1695.2">Valine</text>
<text x="1599.5" y="1738.8">Leucine</text>
<text x="1599.5" y="1782.4">Glutamate</text>
<text x="1599.5" y="1825.9">Methionine</text>
<text x="1599.5" y="1869.5">Glycine</text>
<text x="1599.5" y="1913.1">Homoserine</text>
<text x="1599.5" y="1956.7">Proline</text>
<text x="1599.5" y="2000.2">Aspartate</text>
<text x="1599.5" y="2043.8">Phenylalanine</text>
<text x="1599.5" y="2087.4">Tryptophan</text>
<text x="1599.5" y="2130.9">Tyrosine</text>
<text x="1599.5" y="2174.5">Shikimic acid</text>
<text x="1599.5" y="2218.1">Sorbitol</text>
<text x="1599.5" y="2261.7">Cellobiose</text>
<text x="1599.5" y="2305.2">Pyroglutamic acid</text>
<text x="1599.5" y="2348.8">GABA</text>
</g>
<text x="1599.5" y="252.4" font-size="30.7" font-weight="bold">class</text>
<g font-size="30.5">
<text transform="translate(284.7,2371) rotate(90)" x="0" y="0">P</text>
<text transform="translate(420.8,2371) rotate(90)" x="0" y="0">T</text>
<text transform="translate(556.8,2371) rotate(90)" x="0" y="0">C</text>
<text transform="translate(692.9,2371) rotate(90)" x="0" y="0">D</text>
<text transform="translate(829.0,2371) rotate(90)" x="0" y="0">B</text>
<text transform="translate(965.0,2371) rotate(90)" x="0" y="0">Po</text>
<text transform="translate(1101.1,2371) rotate(90)" x="0" y="0">Ch</text>
<text transform="translate(1237.2,2371) rotate(90)" x="0" y="0">F</text>
<text transform="translate(1373.2,2371) rotate(90)" x="0" y="0">RC</text>
<text transform="translate(1509.3,2371) rotate(90)" x="0" y="0">WC</text>
</g>
<g stroke="#262626" stroke-width="3.2" stroke-linecap="square" fill="none">
<line x1="500.0" y1="27.0" x2="1112.6" y2="27.0"/>
<line x1="500.0" y1="27.0" x2="500.0" y2="139.0"/>
<line x1="1112.6" y1="27.0" x2="1112.6" y2="110.0"/>
<line x1="363.5" y1="139.0" x2="635.8" y2="139.0"/>
<line x1="363.5" y1="139.0" x2="363.5" y2="178.6"/>
<line x1="635.8" y1="139.0" x2="635.8" y2="145.0"/>
<line x1="295.7" y1="178.6" x2="431.8" y2="178.6"/>
<line x1="295.7" y1="178.6" x2="295.7" y2="224.5"/>
<line x1="431.8" y1="178.6" x2="431.8" y2="224.5"/>
<line x1="567.8" y1="145.0" x2="703.9" y2="145.0"/>
<line x1="567.8" y1="145.0" x2="567.8" y2="224.5"/>
<line x1="703.9" y1="145.0" x2="703.9" y2="224.5"/>
<line x1="908.0" y1="110.0" x2="1316.7" y2="110.0"/>
<line x1="908.0" y1="110.0" x2="908.0" y2="156.3"/>
<line x1="1316.7" y1="110.0" x2="1316.7" y2="125.0"/>
<line x1="840.0" y1="156.3" x2="976.0" y2="156.3"/>
<line x1="840.0" y1="156.3" x2="840.0" y2="224.5"/>
<line x1="976.0" y1="156.3" x2="976.0" y2="224.5"/>
<line x1="1180.2" y1="125.0" x2="1452.4" y2="125.0"/>
<line x1="1180.2" y1="125.0" x2="1180.2" y2="149.0"/>
<line x1="1452.4" y1="125.0" x2="1452.4" y2="145.0"/>
<line x1="1112.1" y1="149.0" x2="1248.2" y2="149.0"/>
<line x1="1112.1" y1="149.0" x2="1112.1" y2="224.5"/>
<line x1="1248.2" y1="149.0" x2="1248.2" y2="224.5"/>
<line x1="1384.2" y1="145.0" x2="1520.3" y2="145.0"/>
<line x1="1384.2" y1="145.0" x2="1384.2" y2="224.5"/>
<line x1="1520.3" y1="145.0" x2="1520.3" y2="224.5"/>
<line x1="217.7" y1="290.3" x2="217.7" y2="333.9"/>
<line x1="217.7" y1="290.3" x2="226.0" y2="290.3"/>
<line x1="217.7" y1="333.9" x2="226.0" y2="333.9"/>
<line x1="224.0" y1="421.0" x2="224.0" y2="464.6"/>
<line x1="224.0" y1="421.0" x2="226.0" y2="421.0"/>
<line x1="224.0" y1="464.6" x2="226.0" y2="464.6"/>
<line x1="222.0" y1="377.4" x2="222.0" y2="442.8"/>
<line x1="222.0" y1="377.4" x2="226.0" y2="377.4"/>
<line x1="222.0" y1="442.8" x2="224.0" y2="442.8"/>
<line x1="222.5" y1="551.7" x2="222.5" y2="595.3"/>
<line x1="222.5" y1="551.7" x2="226.0" y2="551.7"/>
<line x1="222.5" y1="595.3" x2="226.0" y2="595.3"/>
<line x1="220.4" y1="508.2" x2="220.4" y2="573.5"/>
<line x1="220.4" y1="508.2" x2="226.0" y2="508.2"/>
<line x1="220.4" y1="573.5" x2="222.5" y2="573.5"/>
<line x1="223.5" y1="682.4" x2="223.5" y2="726.0"/>
<line x1="223.5" y1="682.4" x2="226.0" y2="682.4"/>
<line x1="223.5" y1="726.0" x2="226.0" y2="726.0"/>
<line x1="221.5" y1="638.9" x2="221.5" y2="704.2"/>
<line x1="221.5" y1="638.9" x2="226.0" y2="638.9"/>
<line x1="221.5" y1="704.2" x2="223.5" y2="704.2"/>
<line x1="215.0" y1="540.8" x2="215.0" y2="671.5"/>
<line x1="215.0" y1="540.8" x2="220.4" y2="540.8"/>
<line x1="215.0" y1="671.5" x2="221.5" y2="671.5"/>
<line x1="213.0" y1="410.1" x2="213.0" y2="606.2"/>
<line x1="213.0" y1="410.1" x2="222.0" y2="410.1"/>
<line x1="213.0" y1="606.2" x2="215.0" y2="606.2"/>
<line x1="210.0" y1="312.1" x2="210.0" y2="508.2"/>
<line x1="210.0" y1="312.1" x2="217.7" y2="312.1"/>
<line x1="210.0" y1="508.2" x2="213.0" y2="508.2"/>
<line x1="224.0" y1="856.7" x2="224.0" y2="900.3"/>
<line x1="224.0" y1="856.7" x2="226.0" y2="856.7"/>
<line x1="224.0" y1="900.3" x2="226.0" y2="900.3"/>
<line x1="222.0" y1="813.2" x2="222.0" y2="878.5"/>
<line x1="222.0" y1="813.2" x2="226.0" y2="813.2"/>
<line x1="222.0" y1="878.5" x2="224.0" y2="878.5"/>
<line x1="219.0" y1="769.6" x2="219.0" y2="845.8"/>
<line x1="219.0" y1="769.6" x2="226.0" y2="769.6"/>
<line x1="219.0" y1="845.8" x2="222.0" y2="845.8"/>
<line x1="223.0" y1="943.9" x2="223.0" y2="987.5"/>
<line x1="223.0" y1="943.9" x2="226.0" y2="943.9"/>
<line x1="223.0" y1="987.5" x2="226.0" y2="987.5"/>
<line x1="220.5" y1="1031.0" x2="220.5" y2="1074.6"/>
<line x1="220.5" y1="1031.0" x2="226.0" y2="1031.0"/>
<line x1="220.5" y1="1074.6" x2="226.0" y2="1074.6"/>
<line x1="222.5" y1="1161.7" x2="222.5" y2="1205.3"/>
<line x1="222.5" y1="1161.7" x2="226.0" y2="1161.7"/>
<line x1="222.5" y1="1205.3" x2="226.0" y2="1205.3"/>
<line x1="219.5" y1="1118.2" x2="219.5" y2="1183.5"/>
<line x1="219.5" y1="1118.2" x2="226.0" y2="1118.2"/>
<line x1="219.5" y1="1183.5" x2="222.5" y2="1183.5"/>
<line x1="217.7" y1="1052.8" x2="217.7" y2="1150.9"/>
<line x1="217.7" y1="1052.8" x2="220.5" y2="1052.8"/>
<line x1="217.7" y1="1150.9" x2="219.5" y2="1150.9"/>
<line x1="214.0" y1="965.7" x2="214.0" y2="1101.8"/>
<line x1="214.0" y1="965.7" x2="223.0" y2="965.7"/>
<line x1="214.0" y1="1101.8" x2="217.7" y2="1101.8"/>
<line x1="208.0" y1="807.7" x2="208.0" y2="1033.7"/>
<line x1="208.0" y1="807.7" x2="219.0" y2="807.7"/>
<line x1="208.0" y1="1033.7" x2="214.0" y2="1033.7"/>
<line x1="219.6" y1="1292.5" x2="219.6" y2="1336.0"/>
<line x1="219.6" y1="1292.5" x2="226.0" y2="1292.5"/>
<line x1="219.6" y1="1336.0" x2="226.0" y2="1336.0"/>
<line x1="216.5" y1="1248.9" x2="216.5" y2="1314.2"/>
<line x1="216.5" y1="1248.9" x2="226.0" y2="1248.9"/>
<line x1="216.5" y1="1314.2" x2="219.6" y2="1314.2"/>
<line x1="219.6" y1="1423.2" x2="219.6" y2="1466.8"/>
<line x1="219.6" y1="1423.2" x2="226.0" y2="1423.2"/>
<line x1="219.6" y1="1466.8" x2="226.0" y2="1466.8"/>
<line x1="217.6" y1="1379.6" x2="217.6" y2="1445.0"/>
<line x1="217.6" y1="1379.6" x2="226.0" y2="1379.6"/>
<line x1="217.6" y1="1445.0" x2="219.6" y2="1445.0"/>
<line x1="207.5" y1="1281.6" x2="207.5" y2="1412.3"/>
<line x1="207.5" y1="1281.6" x2="216.5" y2="1281.6"/>
<line x1="207.5" y1="1412.3" x2="217.6" y2="1412.3"/>
<line x1="192.0" y1="920.7" x2="192.0" y2="1346.9"/>
<line x1="192.0" y1="920.7" x2="208.0" y2="920.7"/>
<line x1="192.0" y1="1346.9" x2="207.5" y2="1346.9"/>
<line x1="189.0" y1="410.1" x2="189.0" y2="1133.8"/>
<line x1="189.0" y1="410.1" x2="210.0" y2="410.1"/>
<line x1="189.0" y1="1133.8" x2="192.0" y2="1133.8"/>
<line x1="223.0" y1="1553.9" x2="223.0" y2="1597.5"/>
<line x1="223.0" y1="1553.9" x2="226.0" y2="1553.9"/>
<line x1="223.0" y1="1597.5" x2="226.0" y2="1597.5"/>
<line x1="224.0" y1="1684.6" x2="224.0" y2="1728.2"/>
<line x1="224.0" y1="1684.6" x2="226.0" y2="1684.6"/>
<line x1="224.0" y1="1728.2" x2="226.0" y2="1728.2"/>
<line x1="221.8" y1="1641.0" x2="221.8" y2="1706.4"/>
<line x1="221.8" y1="1641.0" x2="226.0" y2="1641.0"/>
<line x1="221.8" y1="1706.4" x2="224.0" y2="1706.4"/>
<line x1="220.5" y1="1575.7" x2="220.5" y2="1673.7"/>
<line x1="220.5" y1="1575.7" x2="223.0" y2="1575.7"/>
<line x1="220.5" y1="1673.7" x2="221.8" y2="1673.7"/>
<line x1="217.6" y1="1510.3" x2="217.6" y2="1624.7"/>
<line x1="217.6" y1="1510.3" x2="226.0" y2="1510.3"/>
<line x1="217.6" y1="1624.7" x2="220.5" y2="1624.7"/>
<line x1="221.5" y1="1858.9" x2="221.5" y2="1902.5"/>
<line x1="221.5" y1="1858.9" x2="226.0" y2="1858.9"/>
<line x1="221.5" y1="1902.5" x2="226.0" y2="1902.5"/>
<line x1="219.8" y1="1815.3" x2="219.8" y2="1880.7"/>
<line x1="219.8" y1="1815.3" x2="226.0" y2="1815.3"/>
<line x1="219.8" y1="1880.7" x2="221.5" y2="1880.7"/>
<line x1="217.6" y1="1771.8" x2="217.6" y2="1848.0"/>
<line x1="217.6" y1="1771.8" x2="226.0" y2="1771.8"/>
<line x1="217.6" y1="1848.0" x2="219.8" y2="1848.0"/>
<line x1="210.5" y1="1567.5" x2="210.5" y2="1809.9"/>
<line x1="210.5" y1="1567.5" x2="217.6" y2="1567.5"/>
<line x1="210.5" y1="1809.9" x2="217.6" y2="1809.9"/>
<line x1="221.6" y1="1946.1" x2="221.6" y2="1989.6"/>
<line x1="221.6" y1="1946.1" x2="226.0" y2="1946.1"/>
<line x1="221.6" y1="1989.6" x2="226.0" y2="1989.6"/>
<line x1="220.6" y1="2033.2" x2="220.6" y2="2076.8"/>
<line x1="220.6" y1="2033.2" x2="226.0" y2="2033.2"/>
<line x1="220.6" y1="2076.8" x2="226.0" y2="2076.8"/>
<line x1="215.7" y1="1967.8" x2="215.7" y2="2055.0"/>
<line x1="215.7" y1="1967.8" x2="221.6" y2="1967.8"/>
<line x1="215.7" y1="2055.0" x2="220.6" y2="2055.0"/>
<line x1="218.3" y1="2120.3" x2="218.3" y2="2163.9"/>
<line x1="218.3" y1="2120.3" x2="226.0" y2="2120.3"/>
<line x1="218.3" y1="2163.9" x2="226.0" y2="2163.9"/>
<line x1="220.0" y1="2207.5" x2="220.0" y2="2251.1"/>
<line x1="220.0" y1="2207.5" x2="226.0" y2="2207.5"/>
<line x1="220.0" y1="2251.1" x2="226.0" y2="2251.1"/>
<line x1="214.0" y1="2294.6" x2="214.0" y2="2338.2"/>
<line x1="214.0" y1="2294.6" x2="226.0" y2="2294.6"/>
<line x1="214.0" y1="2338.2" x2="226.0" y2="2338.2"/>
<line x1="208.0" y1="2229.3" x2="208.0" y2="2316.4"/>
<line x1="208.0" y1="2229.3" x2="220.0" y2="2229.3"/>
<line x1="208.0" y1="2316.4" x2="214.0" y2="2316.4"/>
<line x1="200.0" y1="2142.1" x2="200.0" y2="2272.9"/>
<line x1="200.0" y1="2142.1" x2="218.3" y2="2142.1"/>
<line x1="200.0" y1="2272.9" x2="208.0" y2="2272.9"/>
<line x1="189.0" y1="2011.4" x2="189.0" y2="2207.5"/>
<line x1="189.0" y1="2011.4" x2="215.7" y2="2011.4"/>
<line x1="189.0" y1="2207.5" x2="200.0" y2="2207.5"/>
<line x1="186.0" y1="1688.7" x2="186.0" y2="2109.5"/>
<line x1="186.0" y1="1688.7" x2="210.5" y2="1688.7"/>
<line x1="186.0" y1="2109.5" x2="189.0" y2="2109.5"/>
<line x1="32.0" y1="772.0" x2="32.0" y2="1899.1"/>
<line x1="32.0" y1="772.0" x2="189.0" y2="772.0"/>
<line x1="32.0" y1="1899.1" x2="186.0" y2="1899.1"/>
</g>
<defs><linearGradient id="lg" x1="0" y1="0" x2="0" y2="1">
<stop offset="0.0000" stop-color="#67001F"/>
<stop offset="0.1111" stop-color="#B2182B"/>
<stop offset="0.2222" stop-color="#D6604D"/>
<stop offset="0.3333" stop-color="#F4A582"/>
<stop offset="0.4444" stop-color="#FDDBC7"/>
<stop offset="0.5556" stop-color="#D1E5F0"/>
<stop offset="0.6667" stop-color="#92C5DE"/>
<stop offset="0.7778" stop-color="#4393C3"/>
<stop offset="0.8889" stop-color="#2166AC"/>
<stop offset="1.0000" stop-color="#053061"/>
</linearGradient></defs>
<rect x="1868.4" y="223" width="38.3" height="563.5" fill="url(#lg)"/>
<g font-size="30.5">
<text x="1921" y="317.8">2</text>
<text x="1921" y="417.4">1</text>
<text x="1921" y="515.8">0</text>
<text x="1921" y="615.3">-1</text>
<text x="1921" y="713.8">-2</text>
</g>
<text x="1957" y="244" font-size="30.5" font-weight="bold">class</text>
<g stroke="#9a9a9a" stroke-width="2.6">
<rect x="1957.5" y="253.5" width="40.5" height="41.5" fill="#E80BDD"/>
<rect x="1957.5" y="295.0" width="40.5" height="41.5" fill="#196B13"/>
<rect x="1957.5" y="336.5" width="40.5" height="41.5" fill="#C6C41A"/>
<rect x="1957.5" y="378.0" width="40.5" height="41.5" fill="#55EA5B"/>
<rect x="1957.5" y="419.5" width="40.5" height="41.5" fill="#66F23A"/>
<rect x="1957.5" y="461.0" width="40.5" height="41.5" fill="#5566EE"/>
<rect x="1957.5" y="502.5" width="40.5" height="41.5" fill="#0636D6"/>
<rect x="1957.5" y="544.0" width="40.5" height="41.5" fill="#FC2424"/>
<rect x="1957.5" y="585.5" width="40.5" height="41.5" fill="#06EAE6"/>
<rect x="1957.5" y="627.0" width="40.5" height="41.5" fill="#E8CCCC"/>
</g>
<g font-size="30.5">
<text x="2008" y="285.2">B</text>
<text x="2008" y="326.8">C</text>
<text x="2008" y="368.2">Ch</text>
<text x="2008" y="409.8">D</text>
<text x="2008" y="451.2">F</text>
<text x="2008" y="492.8">P</text>
<text x="2008" y="534.2">Po</text>
<text x="2008" y="575.8">RC</text>
<text x="2008" y="617.2">T</text>
<text x="2008" y="658.8">WC</text>
</g>
</svg></body></html>
